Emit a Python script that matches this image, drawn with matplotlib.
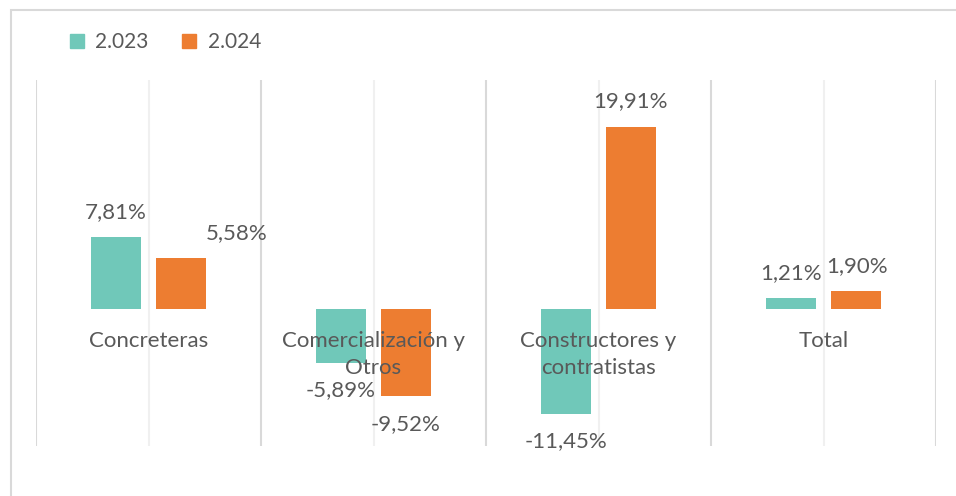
import matplotlib.pyplot as plt
from matplotlib.patches import Patch, Rectangle
import numpy as np

plt.rcParams['font.family'] = ['Lato', 'DejaVu Sans']

categories = ['Concreteras', 'Comercialización y\nOtros', 'Constructores y\ncontratistas', 'Total']
series = ['2.023', '2.024']
v2023 = [7.81, -5.89, -11.45, 1.21]
v2024 = [5.58, -9.52, 19.91, 1.90]
lbl2023 = ['7,81%', '-5,89%', '-11,45%', '1,21%']
lbl2024 = ['5,58%', '-9,52%', '19,91%', '1,90%']

teal = '#70C8B9'
orange = '#ED7D31'
txt = '#595959'
fs = 16

W, H = 956, 496
fig = plt.figure(figsize=(W / 100, H / 100), dpi=100)
ax = fig.add_axes([36 / W, 50 / H, 900 / W, 366 / H])

x = np.arange(len(categories))
off = 0.144
bw = 0.222
b1 = ax.bar(x - off, v2023, bw, color=teal, zorder=3)
b2 = ax.bar(x + off, v2024, bw, color=orange, zorder=3)

ax.set_xlim(-0.5, 3.5)
ax.set_ylim(-15, 25)

# gridlines: dark at category borders, light at centres
for g in np.arange(-0.5, 4, 1):
    ax.axvline(g, color='#d9d9d9', lw=1.5, zorder=1)
for g in x:
    ax.axvline(g, color='#f0f0f0', lw=1.5, zorder=1)

for s in ax.spines.values():
    s.set_visible(False)
ax.set_xticks([])
ax.set_yticks([])

# category labels just below zero line
for i, c in enumerate(categories):
    ax.annotate(c, (i, 0), xytext=(0, -16), textcoords='offset points',
                ha='center', va='top', fontsize=fs, color=txt, linespacing=1.45, zorder=4)

def label(bars, vals, texts, dx):
    for b, v, t, d in zip(bars, vals, texts, dx):
        cx = b.get_x() + b.get_width() / 2
        dy = 18 if v >= 0 else -20
        ax.annotate(t, (cx, v), xytext=(d, dy), textcoords='offset points',
                    ha='center', va='center', fontsize=fs, color=txt, zorder=4)

label(b1, v2023, lbl2023, [0, 0, 0, 0])
label(b2, v2024, lbl2024, [40, 0, 0, 1])

handles = [Patch(color=teal), Patch(color=orange)]
fig.legend(handles, series, loc='center left', bbox_to_anchor=(70 / W, 1 - 42 / H),
           ncol=2, frameon=False, fontsize=15, labelcolor=txt, borderpad=0,
           borderaxespad=0, handlelength=0.67, handleheight=0.67,
           handletextpad=0.55, columnspacing=1.6)

fig.patches.append(Rectangle((11 / W, -0.1), 1.2, 1.1 - 10 / H, transform=fig.transFigure,
                             fill=False, edgecolor='#d9d9d9', lw=1.5))

fig.savefig('out.png', dpi=100)
